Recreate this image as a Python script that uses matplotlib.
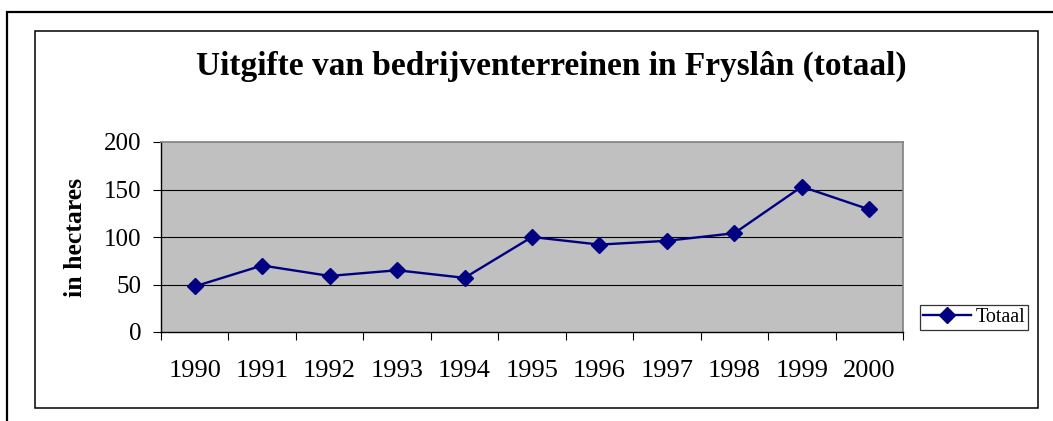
import matplotlib
matplotlib.use("Agg")
import matplotlib.pyplot as plt
from matplotlib.patches import Rectangle

# --- data ---
years = ["1990", "1991", "1992", "1993", "1994", "1995",
         "1996", "1997", "1998", "1999", "2000"]
totaal = [48, 70, 59, 65, 57, 100, 92, 96, 104, 153, 129]

title = "Uitgifte van bedrijventerreinen in Fryslân (totaal)"
ylabel = "in hectares"
yticks = [0, 50, 100, 150, 200]

W, H = 1053, 421
plt.rcParams['font.family'] = ['Liberation Serif', 'DejaVu Serif']

fig = plt.figure(figsize=(W / 100, H / 100), dpi=100)


def px(x, y):
    # pixel (from top-left) -> figure fraction
    return x / W, 1 - y / H


# outer frame (only left/top visible) and inner chart frame
x0, y0 = px(7, 12)
fig.patches.append(Rectangle((x0, -0.1), 1.2, y0 + 0.1, transform=fig.transFigure,
                             fill=False, ec='black', lw=1.6))
x1, y1 = px(35, 408)
x2, y2 = px(1038, 31)
fig.patches.append(Rectangle((x1, y1), x2 - x1, y2 - y1, transform=fig.transFigure,
                             fill=False, ec='black', lw=1.1))

# plot area
l, b = px(161, 332)
r, t = px(903, 142)
ax = fig.add_axes([l, b, r - l, t - b])
ax.set_facecolor('#c0c0c0')

x = list(range(len(years)))
ax.plot(x, totaal, color='#000080', lw=1.7, marker='D', markersize=8,
        label='Totaal')

ax.set_xlim(-0.5, len(years) - 0.5)
ax.set_ylim(0, 200)
ax.set_yticks(yticks)
ax.set_yticklabels([str(v) for v in yticks])
for v in yticks[1:-1]:
    ax.axhline(v, color='black', lw=0.8, zorder=1)

# category ticks at the boundaries, labels in between
ax.set_xticks([i - 0.5 for i in range(len(years) + 1)])
ax.set_xticklabels([])
ax.set_xticks(x, minor=True)
ax.set_xticklabels(years, minor=True)
ax.tick_params(axis='x', which='minor', length=0, pad=20, labelsize=19)
ax.tick_params(axis='x', which='major', direction='out', length=6, width=0.8)
ax.tick_params(axis='y', direction='out', length=6, width=0.8, pad=8, labelsize=18)

for side in ['top', 'right']:
    ax.spines[side].set_color('#808080')
    ax.spines[side].set_linewidth(1.2)
for side in ['left', 'bottom']:
    ax.spines[side].set_color('black')
    ax.spines[side].set_linewidth(1.0)

ax.set_ylabel(ylabel, fontsize=18.5, fontweight='bold', labelpad=12)

tx, ty = px(551, 66)
fig.text(tx, ty, title, ha='center', va='center', fontsize=24, fontweight='bold')

lx, ly = px(920, 330)
leg = fig.legend(loc='lower left', bbox_to_anchor=(lx, ly), fontsize=14.5,
                 frameon=True, fancybox=False, edgecolor='black',
                 borderpad=0.15, handlelength=2.4, handletextpad=0.2,
                 borderaxespad=0)
leg.get_frame().set_linewidth(0.9)

fig.savefig("out.png", dpi=100)
